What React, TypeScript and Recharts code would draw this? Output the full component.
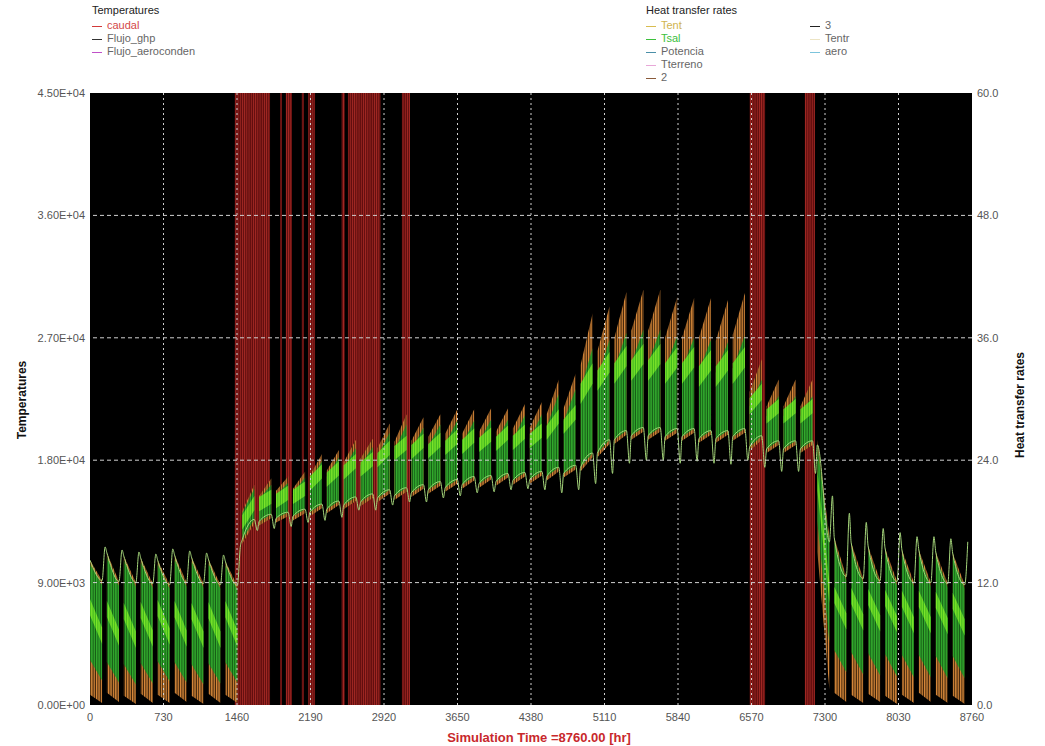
import React from "react";
import {
  ComposedChart,
  Area,
  Line,
  XAxis,
  YAxis,
  CartesianGrid,
  ReferenceLine,
} from "recharts";

// Axis ticks
const X_TICKS = [0, 730, 1460, 2190, 2920, 3650, 4380, 5110, 5840, 6570, 7300, 8030, 8760];
const LEFT_TICKS = [0, 9000, 18000, 27000, 36000, 45000];
const RIGHT_TICKS = [0, 12, 24, 36, 48, 60];
const MINOR_TICKS = [0, 3, 6, 9, 12, 15, 18, 21, 24, 27, 30, 33, 36, 39, 42, 45, 48, 51, 54, 57, 60];

// Weekly schedule: weekday block, then weekend
const WEEK_START = [
  0, 168, 336, 504, 672, 840, 1008, 1176, 1344, 1512, 1680, 1848, 2016, 2184, 2352, 2520, 2688,
  2856, 3024, 3192, 3360, 3528, 3696, 3864, 4032, 4200, 4368, 4536, 4704, 4872, 5040, 5208, 5376,
  5544, 5712, 5880, 6048, 6216, 6384, 6552, 6720, 6888, 7056, 7224, 7392, 7560, 7728, 7896, 8064,
  8232, 8400, 8568,
];
const BLOCK_HOURS = 120;
const WEEKEND_MID = 150;

// Heat transfer rates (right axis), per week: [block start, block end]
const TENT_TOP = [
  [14.2, 12.2], [14.9, 12.1], [14.6, 12.0], [14.4, 11.9], [14.2, 11.8], [14.7, 12.0], [14.5, 11.9],
  [14.3, 11.8], [14.1, 11.7], [19.0, 21.6], [20.5, 22.2], [21.0, 22.4], [21.2, 22.9], [22.5, 24.6],
  [23.0, 25.0], [23.8, 26.0], [24.2, 26.1], [25.2, 27.6], [25.8, 28.5], [25.9, 28.2], [26.3, 28.5],
  [26.6, 29.0], [26.6, 29.0], [26.8, 29.1], [26.8, 29.1], [27.1, 29.5], [27.2, 29.7], [28.5, 31.9],
  [29.1, 32.5], [33.3, 38.4], [34.7, 39.1], [36.0, 40.5], [36.7, 40.7], [36.7, 40.7], [36.0, 40.0],
  [36.0, 39.9], [36.0, 39.9], [35.7, 39.7], [36.3, 40.4], [30.7, 33.9], [29.3, 31.9], [29.3, 31.9],
  [29.3, 31.9], [26.0, 16.5], [16.4, 12.6], [15.9, 12.4], [15.6, 12.2], [15.4, 12.1], [15.2, 12.0],
  [15.2, 12.0], [15.0, 11.9], [14.9, 11.8],
];
const TENT_BOT = [
  [1.0, 0.2], [1.2, 0.3], [0.9, 0.1], [1.1, 0.2], [1.0, 0.2], [1.2, 0.3], [0.9, 0.1],
  [1.1, 0.2], [1.0, 0.2], [15.8, 17.8], [17.6, 18.3], [17.9, 18.5], [18.1, 18.8], [18.5, 19.3],
  [18.8, 19.6], [19.2, 20.0], [19.5, 20.3], [19.9, 20.7], [20.1, 20.9], [20.4, 21.2], [20.7, 21.5],
  [20.9, 21.7], [21.2, 22.0], [21.3, 22.1], [21.5, 22.3], [21.6, 22.4], [21.7, 22.5], [22.0, 22.9],
  [22.3, 23.1], [22.9, 24.3], [24.3, 25.6], [25.6, 26.5], [26.0, 26.8], [26.0, 26.8], [25.9, 26.7],
  [25.9, 26.7], [25.7, 26.5], [25.7, 26.5], [25.9, 26.7], [24.9, 26.0], [24.7, 25.5], [24.7, 25.5],
  [24.7, 25.5], [15.0, 1.5], [1.2, 0.3], [1.0, 0.2], [1.1, 0.3], [0.9, 0.1], [1.0, 0.2],
  [1.2, 0.3], [1.0, 0.2], [0.9, 0.1],
];
const TSAL_TOP = [
  [13.8, 11.8], [14.5, 11.7], [14.2, 11.6], [14.0, 11.5], [13.8, 11.4], [14.3, 11.6], [14.1, 11.5],
  [13.9, 11.4], [13.7, 11.3], [18.8, 21.2], [20.2, 21.6], [20.6, 21.8], [20.8, 22.3], [22.0, 23.9],
  [22.4, 24.3], [23.2, 25.2], [23.5, 25.3], [24.4, 26.7], [25.0, 27.5], [25.0, 27.2], [25.4, 27.5],
  [25.6, 27.9], [25.6, 27.9], [25.8, 28.0], [25.8, 28.0], [26.0, 28.4], [26.1, 28.5], [27.3, 30.5],
  [27.8, 31.0], [31.0, 35.0], [32.0, 35.8], [33.0, 36.5], [33.5, 36.8], [33.5, 36.8], [33.0, 36.2],
  [33.0, 36.0], [32.8, 35.8], [32.6, 35.6], [33.0, 36.2], [29.3, 31.9], [28.3, 30.3], [28.3, 30.3],
  [28.3, 30.3], [25.5, 16.0], [16.0, 12.2], [15.5, 12.0], [15.2, 11.8], [15.0, 11.7], [14.8, 11.6],
  [14.8, 11.6], [14.6, 11.5], [14.5, 11.4],
];
const TSAL_BOT = [
  [4.4, 2.4], [4.2, 2.2], [4.0, 2.0], [4.1, 2.1], [4.3, 2.3], [4.2, 2.2], [4.0, 2.0],
  [4.1, 2.1], [4.2, 2.2], [16.2, 18.2], [18.0, 18.7], [18.3, 18.9], [18.5, 19.2], [18.9, 19.7],
  [19.2, 20.0], [19.6, 20.4], [19.9, 20.7], [20.3, 21.1], [20.5, 21.3], [20.8, 21.6], [21.1, 21.9],
  [21.3, 22.1], [21.6, 22.4], [21.7, 22.5], [21.9, 22.7], [22.0, 22.8], [22.1, 22.9], [22.4, 23.3],
  [22.7, 23.5], [23.3, 24.7], [24.7, 26.0], [26.0, 26.9], [26.4, 27.2], [26.4, 27.2], [26.3, 27.1],
  [26.3, 27.1], [26.1, 26.9], [26.1, 26.9], [26.3, 27.1], [25.3, 26.4], [25.1, 25.9], [25.1, 25.9],
  [25.1, 25.9], [18.0, 6.0], [5.4, 3.2], [5.2, 3.0], [5.1, 2.9], [5.0, 2.8], [4.9, 2.7],
  [4.9, 2.7], [4.8, 2.6], [4.8, 2.6],
];
const BAND_TOP = [
  [10.4, 7.6], [10.2, 7.4], [10.0, 7.2], [10.1, 7.3], [10.3, 7.5], [10.2, 7.3], [10.0, 7.2],
  [10.1, 7.2], [10.2, 7.3], [18.6, 20.5], [20.4, 21.1], [20.7, 21.5], [21.1, 21.9], [22.4, 23.6],
  [22.8, 23.9], [23.5, 24.6], [23.8, 24.8], [24.7, 25.9], [25.4, 26.4], [25.5, 26.6], [25.6, 26.7],
  [25.9, 27.0], [26.0, 27.1], [26.2, 27.2], [26.3, 27.4], [26.4, 27.5], [26.6, 27.6], [27.4, 29.0],
  [28.0, 29.4], [31.5, 33.5], [32.8, 34.6], [33.5, 35.2], [33.8, 35.4], [33.8, 35.4], [33.5, 35.1],
  [33.5, 35.1], [33.2, 34.8], [33.2, 34.8], [33.5, 35.1], [30.1, 31.5], [29.0, 30.0], [29.0, 30.0],
  [29.0, 30.0], [23.0, 12.0], [11.6, 9.0], [11.5, 8.9], [11.4, 8.8], [11.3, 8.7], [11.2, 8.6],
  [11.2, 8.6], [11.1, 8.5], [11.0, 8.4],
];
const BAND_BOT = [
  [8.8, 6.0], [8.6, 5.8], [8.4, 5.6], [8.5, 5.7], [8.7, 5.9], [8.6, 5.7], [8.4, 5.6],
  [8.5, 5.6], [8.6, 5.7], [17.2, 19.1], [19.0, 19.7], [19.3, 20.1], [19.7, 20.5], [21.0, 22.2],
  [21.4, 22.5], [22.1, 23.2], [22.4, 23.4], [23.3, 24.5], [24.0, 25.0], [24.1, 25.2], [24.2, 25.3],
  [24.5, 25.6], [24.6, 25.7], [24.8, 25.8], [24.9, 26.0], [25.0, 26.1], [25.2, 26.2], [26.0, 27.6],
  [26.6, 28.0], [29.5, 31.5], [30.8, 32.6], [31.5, 33.2], [31.8, 33.4], [31.8, 33.4], [31.5, 33.1],
  [31.5, 33.1], [31.2, 32.8], [31.2, 32.8], [31.5, 33.1], [28.5, 29.9], [27.6, 28.6], [27.6, 28.6],
  [27.6, 28.6], [21.0, 10.0], [10.0, 7.4], [9.9, 7.3], [9.8, 7.2], [9.7, 7.1], [9.6, 7.0],
  [9.6, 7.0], [9.5, 6.9], [9.4, 6.8],
];
// thin envelope line: [block start, block end, weekend extreme]
const ENV = [
  [14.2, 12.2, 15.5], [14.9, 12.1, 15.2], [14.6, 12.0, 15.0], [14.4, 11.9, 14.8], [14.2, 11.8, 15.3],
  [14.7, 12.0, 15.1], [14.5, 11.9, 14.9], [14.3, 11.8, 14.7], [14.1, 11.7, 15.6], [16.2, 18.2, 17.1],
  [18.0, 18.7, 17.3], [18.3, 18.9, 17.5], [18.5, 19.2, 17.9], [18.9, 19.7, 18.1], [19.2, 20.0, 18.4],
  [19.6, 20.4, 19.1], [19.9, 20.7, 19.1], [20.3, 21.1, 19.6], [20.5, 21.3, 19.9], [20.8, 21.6, 19.9],
  [21.1, 21.9, 20.3], [21.3, 22.1, 20.5], [21.6, 22.4, 20.8], [21.7, 22.5, 20.9], [21.9, 22.7, 21.1],
  [22.0, 22.8, 21.2], [22.1, 22.9, 21.1], [22.4, 23.3, 20.8], [22.7, 23.5, 21.1], [23.3, 24.7, 21.7],
  [24.7, 26.0, 22.7], [26.0, 26.9, 23.7], [26.4, 27.2, 24.0], [26.4, 27.2, 24.0], [26.3, 27.1, 23.7],
  [26.3, 27.1, 23.9], [26.1, 26.9, 23.7], [26.1, 26.9, 23.6], [26.3, 27.1, 24.0], [25.3, 26.4, 23.3],
  [25.1, 25.9, 22.9], [25.1, 25.9, 22.9], [25.1, 25.9, 22.7], [25.5, 16.0, 20.5], [16.4, 12.6, 18.8],
  [15.9, 12.4, 17.9], [15.6, 12.2, 17.3], [15.4, 12.1, 16.9], [15.2, 12.0, 16.5], [15.2, 12.0, 16.5],
  [15.0, 11.9, 16.3], [14.9, 11.8, 16.0],
];

// Temperatures (left axis): caudal pulses, [start hr, end hr]
const CAUDAL_BANDS = [
  [1438, 1788], [1888, 1906], [1945, 2006], [2104, 2124], [2168, 2235],
  [2500, 2530], [2562, 2885], [3098, 3178], [6552, 6705], [7100, 7200],
];
const CAUDAL_LEVEL = 45000;

const weekRows = WEEK_START.flatMap((t0, k) => [
  {
    h: t0,
    tent: [TENT_BOT[k][0], TENT_TOP[k][0]],
    tsal: [TSAL_BOT[k][0], TSAL_TOP[k][0]],
    band: [BAND_BOT[k][0], BAND_TOP[k][0]],
    env: ENV[k][0],
  },
  {
    h: t0 + BLOCK_HOURS,
    tent: [TENT_BOT[k][1], TENT_TOP[k][1]],
    tsal: [TSAL_BOT[k][1], TSAL_TOP[k][1]],
    band: [BAND_BOT[k][1], BAND_TOP[k][1]],
    env: ENV[k][1],
  },
  { h: t0 + WEEKEND_MID, tent: null, tsal: null, band: null, env: ENV[k][2] },
]);

const caudalRows = CAUDAL_BANDS.flatMap(([a, b]) => [
  { h: a, caudal: CAUDAL_LEVEL },
  { h: b, caudal: CAUDAL_LEVEL },
  { h: b, caudal: null },
]);

const LEGEND_LEFT = [
  { name: "caudal", line: "#d23a3a", text: "#d44848" },
  { name: "Flujo_ghp", line: "#333333", text: "#666666" },
  { name: "Flujo_aeroconden", line: "#c050c8", text: "#666666" },
];
const LEGEND_RIGHT_A = [
  { name: "Tent", line: "#d8bc50", text: "#d0b450" },
  { name: "Tsal", line: "#3cc03c", text: "#3cc03c" },
  { name: "Potencia", line: "#4a8fa8", text: "#666666" },
  { name: "Tterreno", line: "#e8a8d8", text: "#666666" },
  { name: "2", line: "#8a5a3a", text: "#666666" },
];
const LEGEND_RIGHT_B = [
  { name: "3", line: "#222222", text: "#666666" },
  { name: "Tentr", line: "#ece4c4", text: "#666666" },
  { name: "aero", line: "#7cc4dc", text: "#666666" },
];

const FONT = '"Liberation Sans", Arial, sans-serif';

function fmtExp(v: number) {
  const [m, e] = v.toExponential(2).split("e");
  const n = parseInt(e, 10);
  return `${m}E${n < 0 ? "-" : "+"}${String(Math.abs(n)).padStart(2, "0")}`;
}

function LegendBlock({
  x,
  y,
  items,
}: {
  x: number;
  y: number;
  items: { name: string; line: string; text: string }[];
}) {
  return (
    <div style={{ position: "absolute", left: x, top: y }}>
      {items.map((it) => (
        <div key={it.name} style={{ height: 13, lineHeight: "13px", whiteSpace: "nowrap" }}>
          <span
            style={{
              display: "inline-block",
              width: 10,
              borderTop: `1px solid ${it.line}`,
              verticalAlign: "middle",
              marginRight: 5,
            }}
          />
          <span style={{ color: it.text }}>{it.name}</span>
        </div>
      ))}
    </div>
  );
}

export default function App() {
  const tickStyle = { fontSize: 11, fill: "#555", fontFamily: FONT };
  return (
    <div
      style={{
        position: "absolute",
        left: 0,
        top: 0,
        width: 1045,
        height: 746,
        background: "#fff",
        fontFamily: FONT,
        fontSize: 11,
        overflow: "hidden",
      }}
    >
      <div style={{ position: "absolute", left: 92, top: 4, color: "#222" }}>Temperatures</div>
      <LegendBlock x={92} y={19} items={LEGEND_LEFT} />
      <div style={{ position: "absolute", left: 646, top: 4, color: "#222" }}>Heat transfer rates</div>
      <LegendBlock x={646} y={19} items={LEGEND_RIGHT_A} />
      <LegendBlock x={810} y={19} items={LEGEND_RIGHT_B} />

      <div style={{ position: "absolute", left: 0, top: 0 }}>
        <ComposedChart
          width={1045}
          height={746}
          data={weekRows}
          margin={{ top: 93, right: 0, bottom: 21, left: 0 }}
        >
          <defs>
            <pattern id="caudalPat" patternUnits="userSpaceOnUse" width="2.2" height="10">
              <rect width="2.2" height="10" fill="#5e0d0d" />
              <rect width="0.9" height="10" fill="#a62a25" />
            </pattern>
            <pattern id="tentPat" patternUnits="userSpaceOnUse" width="2.4" height="10">
              <rect width="2.4" height="10" fill="#3a2008" />
              <rect width="1.3" height="10" fill="#dc8c3c" />
            </pattern>
            <pattern id="tsalPat" patternUnits="userSpaceOnUse" width="2.4" height="10">
              <rect width="2.4" height="10" fill="#145814" />
              <rect width="1.4" height="10" fill="#33ac2e" />
            </pattern>
            <pattern id="bandPat" patternUnits="userSpaceOnUse" width="2.4" height="10">
              <rect width="2.4" height="10" fill="#3cb41c" />
              <rect width="1.3" height="10" fill="#7ee62a" />
            </pattern>
          </defs>
          <CartesianGrid fill="#000" horizontal={false} vertical={false} />
          <XAxis
            dataKey="h"
            type="number"
            domain={[0, 8760]}
            ticks={X_TICKS}
            height={20}
            axisLine={false}
            tickLine={false}
            tick={tickStyle}
            allowDataOverflow
          />
          <YAxis
            yAxisId="left"
            domain={[0, 45000]}
            ticks={LEFT_TICKS}
            width={90}
            tickFormatter={fmtExp}
            axisLine={false}
            tickLine={false}
            tickSize={3}
            tickMargin={2}
            tick={tickStyle}
            allowDataOverflow
          />
          <YAxis
            yAxisId="minorL"
            mirror
            domain={[0, 60]}
            ticks={MINOR_TICKS}
            width={0}
            tick={false}
            tickSize={4}
            tickLine={{ stroke: "#9a9a9a" }}
            axisLine={false}
          />
          <YAxis
            yAxisId="minorR"
            orientation="right"
            mirror
            domain={[0, 60]}
            ticks={MINOR_TICKS}
            width={0}
            tick={false}
            tickSize={4}
            tickLine={{ stroke: "#9a9a9a" }}
            axisLine={false}
          />
          <YAxis
            yAxisId="right"
            orientation="right"
            domain={[0, 60]}
            ticks={RIGHT_TICKS}
            width={73}
            tickFormatter={(v: number) => v.toFixed(1)}
            axisLine={false}
            tickLine={false}
            tickSize={3}
            tickMargin={2}
            tick={tickStyle}
            allowDataOverflow
          />

          <Area
            yAxisId="left"
            data={caudalRows}
            dataKey="caudal"
            name="caudal"
            type="linear"
            stroke="none"
            fill="url(#caudalPat)"
            fillOpacity={1}
            isAnimationActive={false}
          />
          <Area
            yAxisId="right"
            dataKey="tent"
            name="Tent"
            type="linear"
            stroke="none"
            fill="url(#tentPat)"
            fillOpacity={1}
            isAnimationActive={false}
          />
          <Area
            yAxisId="right"
            dataKey="tsal"
            name="Tsal"
            type="linear"
            stroke="none"
            fill="url(#tsalPat)"
            fillOpacity={1}
            isAnimationActive={false}
          />
          <Area
            yAxisId="right"
            dataKey="band"
            name="Potencia"
            type="linear"
            stroke="none"
            fill="url(#bandPat)"
            fillOpacity={1}
            isAnimationActive={false}
          />
          <Line
            yAxisId="right"
            dataKey="env"
            name="Tentr"
            type="monotone"
            stroke="#a4d47a"
            strokeWidth={1}
            dot={false}
            isAnimationActive={false}
          />

          {X_TICKS.slice(1, -1).map((x) => (
            <ReferenceLine
              key={`vx${x}`}
              yAxisId="right"
              x={x}
              stroke="#d0d0d0"
              strokeDasharray="2 3"
            />
          ))}
          {RIGHT_TICKS.slice(1, -1).map((y) => (
            <ReferenceLine
              key={`hy${y}`}
              yAxisId="right"
              y={y}
              stroke="#d0d0d0"
              strokeDasharray="4 3"
            />
          ))}
        </ComposedChart>
      </div>

      <div
        style={{
          position: "absolute",
          left: 22,
          top: 400,
          transform: "translate(-50%, -50%) rotate(-90deg)",
          fontWeight: "bold",
          fontSize: 12,
          color: "#111",
          whiteSpace: "nowrap",
        }}
      >
        Temperatures
      </div>
      <div
        style={{
          position: "absolute",
          left: 1020,
          top: 405,
          transform: "translate(-50%, -50%) rotate(-90deg)",
          fontWeight: "bold",
          fontSize: 12,
          color: "#111",
          whiteSpace: "nowrap",
        }}
      >
        Heat transfer rates
      </div>
      <div
        style={{
          position: "absolute",
          left: 539,
          top: 737,
          transform: "translate(-50%, -50%)",
          fontWeight: "bold",
          fontSize: 13,
          color: "#c8282c",
          whiteSpace: "nowrap",
        }}
      >
        Simulation Time =8760.00 [hr]
      </div>
    </div>
  );
}
